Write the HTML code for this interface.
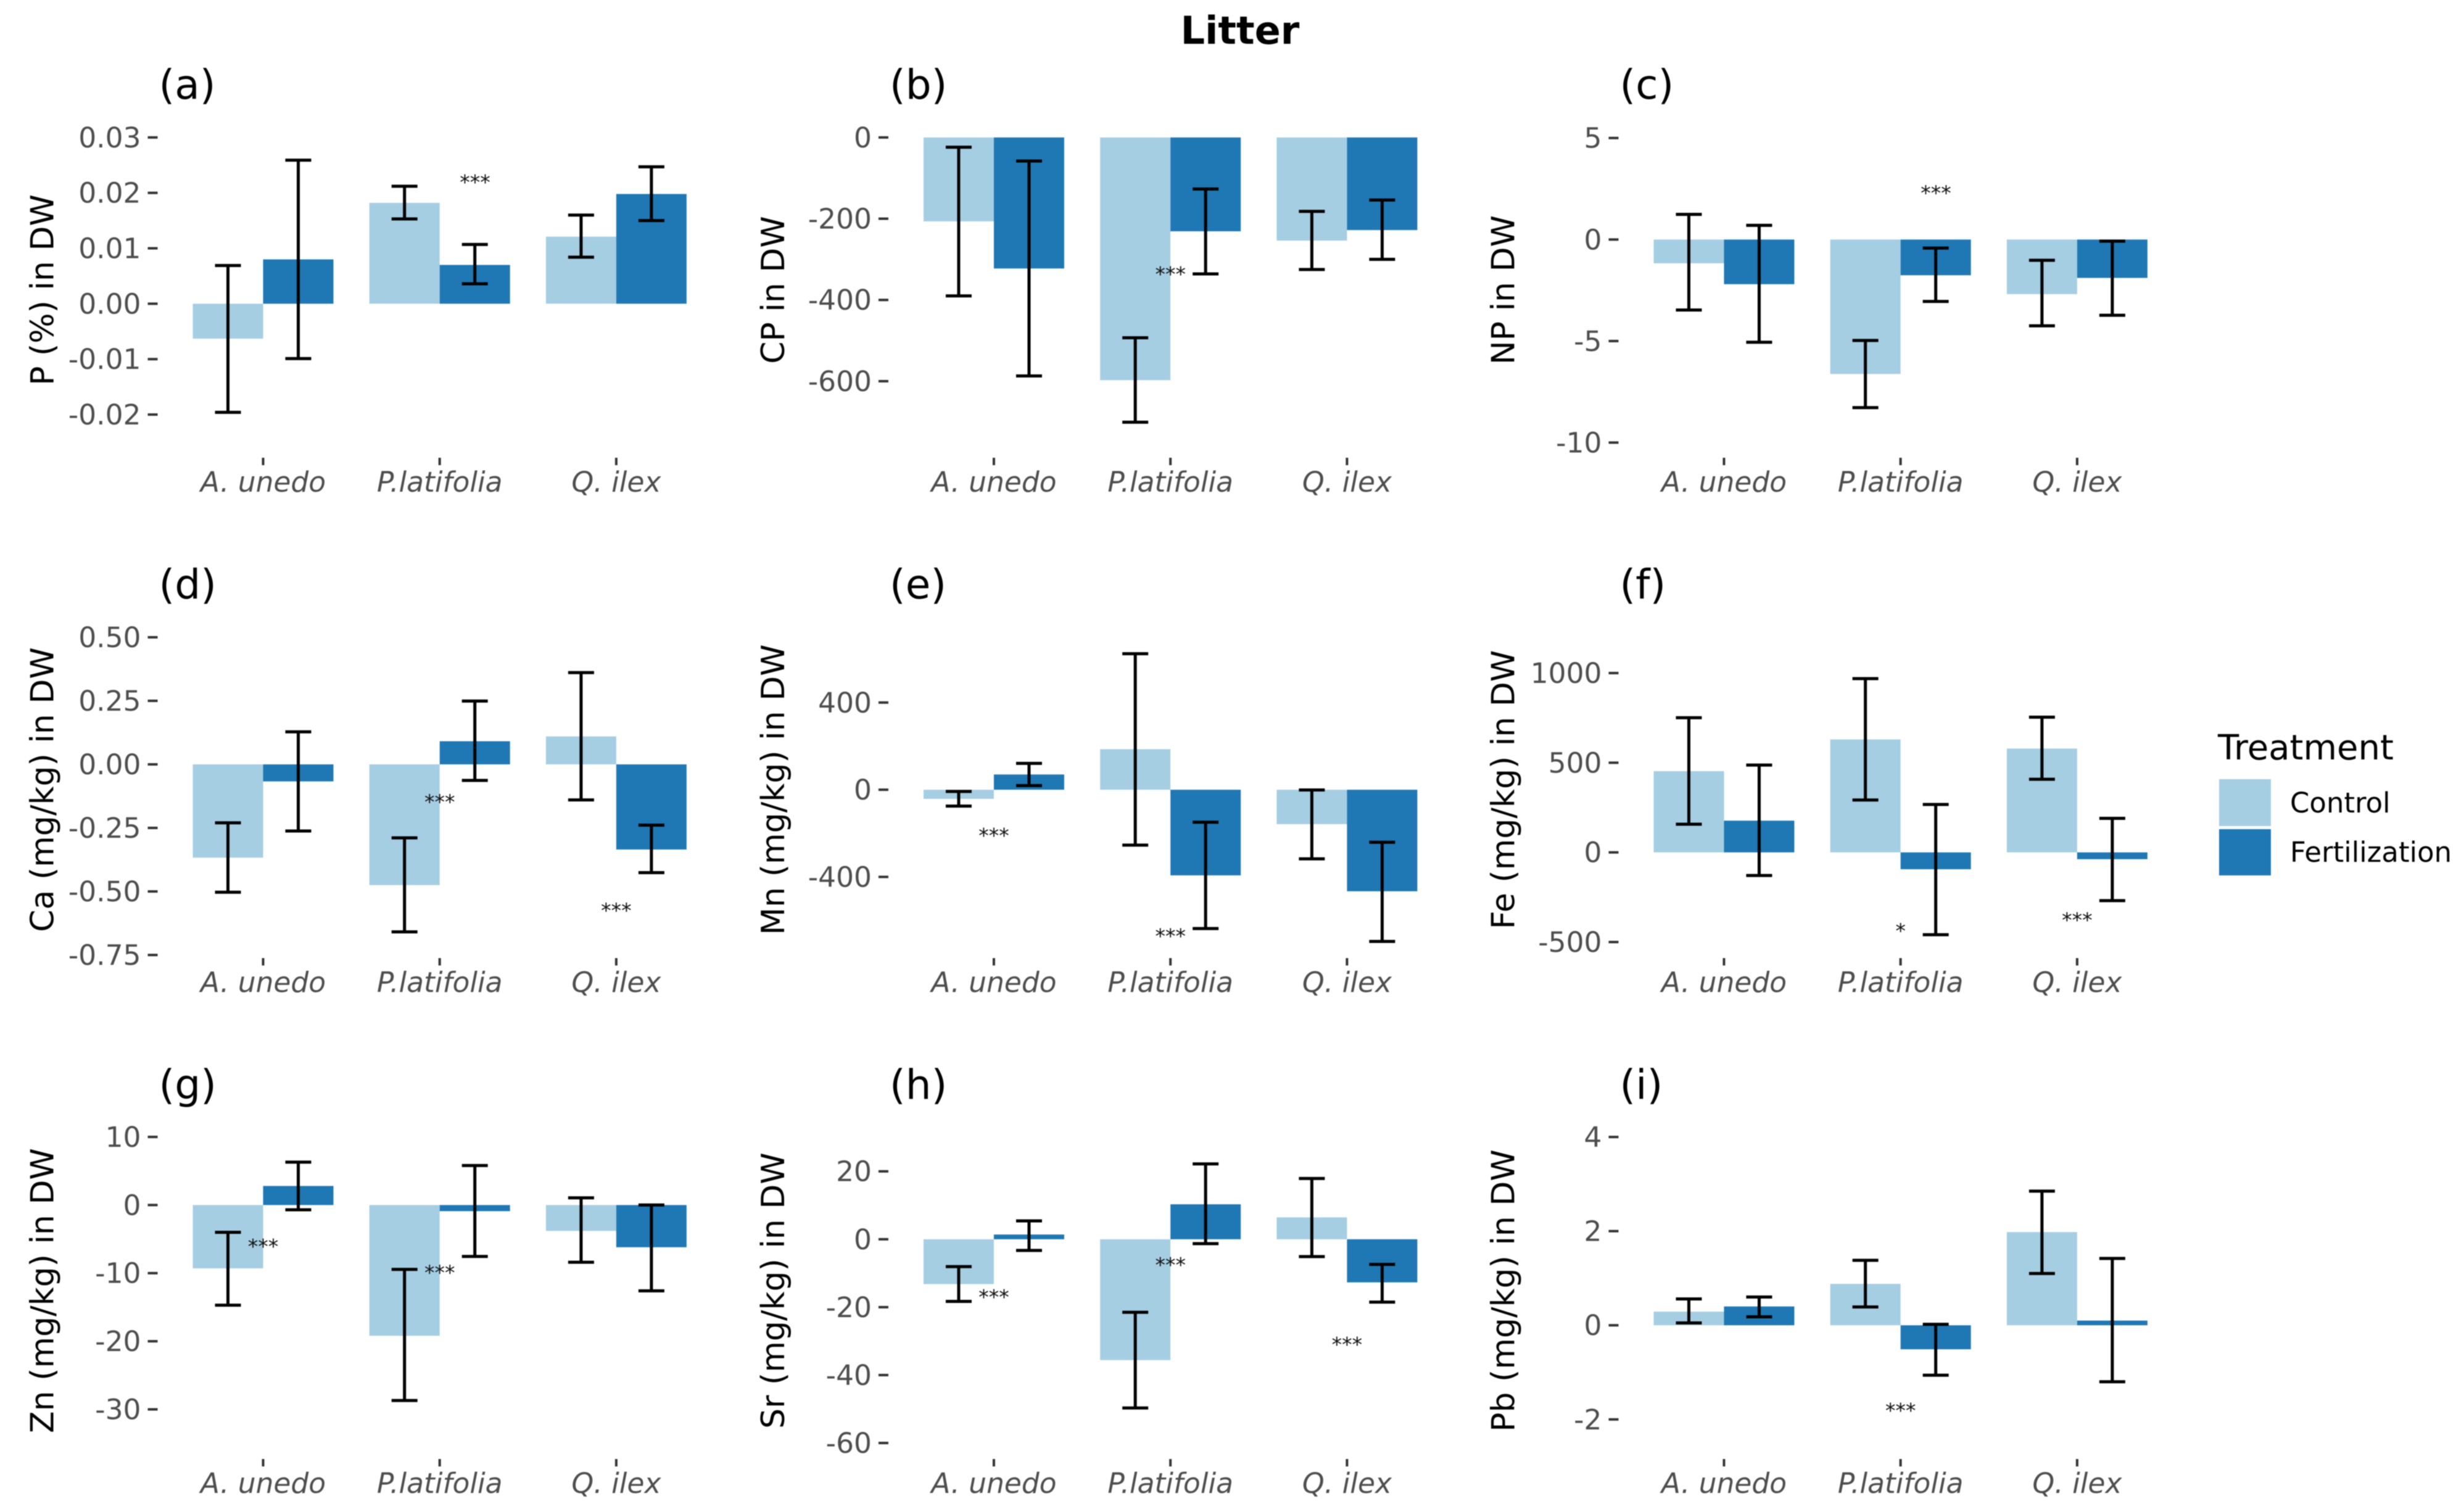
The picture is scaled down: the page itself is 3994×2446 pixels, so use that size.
<!DOCTYPE html>
<html lang="en">
<head>
<meta charset="utf-8">
<title>Litter</title>
<style>
html,body{margin:0;padding:0;background:#fff;}
svg{display:block;filter:blur(0.8px);font-family:"DejaVu Sans","Liberation Sans",sans-serif;}
</style>
</head>
<body>
<svg id="chart" xmlns="http://www.w3.org/2000/svg" width="3994" height="2446" viewBox="0 0 3994 2446">
  <rect x="0" y="0" width="3994" height="2446" fill="#ffffff"/>
  <text x="2010" y="71" font-size="62" font-weight="bold" text-anchor="middle" fill="#000">Litter</text>
  <g>
    <text x="3595" y="1231" font-size="56" fill="#000">Treatment</text>
    <rect x="3597" y="1263" width="84" height="76" fill="#a6cee3"/>
    <text x="3712" y="1317" font-size="45" fill="#000">Control</text>
    <rect x="3597" y="1344" width="84" height="75" fill="#1f78b4"/>
    <text x="3712" y="1397" font-size="45" fill="#000">Fertilization</text>
  </g>
</svg>
<script>
const categories = ['A. unedo', 'P.latifolia', 'Q. ilex'];

const aTicks = [0.03, 0.02, 0.01, 0, -0.01, -0.02];
const aTickLabels = ['0.03', '0.02', '0.01', '0.00', '-0.01', '-0.02'];
const aControl = [-0.0063, 0.0182, 0.0121];
const aFertilization = [0.0080, 0.0070, 0.0198];
const aControlHigh = [0.0069, 0.0212, 0.0160];
const aControlLow = [-0.0196, 0.0153, 0.0084];
const aFertilizationHigh = [0.0259, 0.0107, 0.0247];
const aFertilizationLow = [-0.0099, 0.0036, 0.0150];
const aStarCats = [1.2];
const aStarValues = [0.0225];
const aStarLabels = ['***'];

const bTicks = [0, -200, -400, -600];
const bTickLabels = ['0', '-200', '-400', '-600'];
const bControl = [-206.6, -597.5, -254];
const bFertilization = [-322.6, -231, -228];
const bControlHigh = [-24, -493, -182];
const bControlLow = [-390, -701, -325];
const bFertilizationHigh = [-58, -127, -154];
const bFertilizationLow = [-587, -336, -300];
const bStarCats = [1];
const bStarValues = [-328];
const bStarLabels = ['***'];

const cTicks = [5, 0, -5, -10];
const cTickLabels = ['5', '0', '-5', '-10'];
const cControl = [-1.17, -6.62, -2.69];
const cFertilization = [-2.2, -1.76, -1.89];
const cControlHigh = [1.24, -4.97, -1.02];
const cControlLow = [-3.47, -8.28, -4.25];
const cFertilizationHigh = [0.7, -0.42, -0.08];
const cFertilizationLow = [-5.06, -3.05, -3.73];
const cStarCats = [1.2];
const cStarValues = [2.45];
const cStarLabels = ['***'];

const dTicks = [0.5, 0.25, 0, -0.25, -0.5, -0.75];
const dTickLabels = ['0.50', '0.25', '0.00', '-0.25', '-0.50', '-0.75'];
const dControl = [-0.367, -0.475, 0.11];
const dFertilization = [-0.067, 0.091, -0.335];
const dControlHigh = [-0.23, -0.289, 0.361];
const dControlLow = [-0.503, -0.659, -0.14];
const dFertilizationHigh = [0.128, 0.249, -0.239];
const dFertilizationLow = [-0.262, -0.063, -0.426];
const dStarCats = [1, 2];
const dStarValues = [-0.135, -0.562];
const dStarLabels = ['***', '***'];

const eTicks = [400, 0, -400];
const eTickLabels = ['400', '0', '-400'];
const eControl = [-42, 186, -158];
const eFertilization = [70, -393, -466];
const eControlHigh = [-8, 624, -1];
const eControlLow = [-75, -254, -317];
const eFertilizationHigh = [121, -149, -241];
const eFertilizationLow = [19, -637, -696];
const eStarCats = [0, 1];
const eStarValues = [-195, -656];
const eStarLabels = ['***', '***'];

const fTicks = [1000, 500, 0, -500];
const fTickLabels = ['1000', '500', '0', '-500'];
const fControl = [453, 630, 579];
const fFertilization = [177, -94, -38];
const fControlHigh = [751, 969, 754];
const fControlLow = [157, 292, 408];
const fFertilizationHigh = [487, 267, 190];
const fFertilizationLow = [-129, -459, -269];
const fStarCats = [1, 2];
const fStarValues = [-419, -359];
const fStarLabels = ['*', '***'];

const gTicks = [10, 0, -10, -20, -30];
const gTickLabels = ['10', '0', '-10', '-20', '-30'];
const gControl = [-9.3, -19.2, -3.8];
const gFertilization = [2.8, -0.9, -6.2];
const gControlHigh = [-4, -9.45, 1.06];
const gControlLow = [-14.7, -28.7, -8.4];
const gFertilizationHigh = [6.3, 5.8, 0];
const gFertilizationLow = [-0.7, -7.55, -12.6];
const gStarCats = [0, 1];
const gStarValues = [-5.6, -9.45];
const gStarLabels = ['***', '***'];

const hTicks = [20, 0, -20, -40, -60];
const hTickLabels = ['20', '0', '-20', '-40', '-60'];
const hControl = [-13.2, -35.6, 6.45];
const hFertilization = [1.4, 10.3, -12.7];
const hControlHigh = [-8.06, -21.5, 17.9];
const hControlLow = [-18.3, -49.7, -5.1];
const hFertilizationHigh = [5.4, 22.2, -7.4];
const hFertilizationLow = [-3.3, -1.3, -18.5];
const hStarCats = [0, 1, 2];
const hStarValues = [-16, -6.6, -30];
const hStarLabels = ['***', '***', '***'];

const iTicks = [4, 2, 0, -2];
const iTickLabels = ['4', '2', '0', '-2'];
const iControl = [0.29, 0.88, 1.98];
const iFertilization = [0.4, -0.51, 0.1];
const iControlHigh = [0.56, 1.38, 2.85];
const iControlLow = [0.05, 0.39, 1.1];
const iFertilizationHigh = [0.6, 0.02, 1.42];
const iFertilizationLow = [0.18, -1.06, -1.2];
const iStarCats = [1];
const iStarValues = [-1.74];
const iStarLabels = ['***'];

const NS = 'http://www.w3.org/2000/svg';
const svg = document.getElementById('chart');
const CONTROL_COLOR = '#a6cee3';
const FERT_COLOR = '#1f78b4';
const CAT_STEP = 286.2;
const BAR_W = 114;
const CAP_W = 42;

function mk(tag, attrs, parent) {
  const node = document.createElementNS(NS, tag);
  for (const k in attrs) node.setAttribute(k, attrs[k]);
  parent.appendChild(node);
  return node;
}

function linearAxis(v0, p0, v1, p1) {
  return function (v) { return p0 + (v - v0) * (p1 - p0) / (v1 - v0); };
}

function drawErrorBar(parent, cx, yHigh, yLow, name) {
  const g = mk('g', { stroke: '#000', 'stroke-width': 5, fill: 'none' }, parent);
  
  
  mk('line', { x1: cx, x2: cx, y1: yHigh, y2: yLow }, g);
  mk('line', { x1: cx - CAP_W / 2, x2: cx + CAP_W / 2, y1: yHigh, y2: yHigh }, g);
  mk('line', { x1: cx - CAP_W / 2, x2: cx + CAP_W / 2, y1: yLow, y2: yLow }, g);
}

function drawPanel(p) {
  const g = mk('g', {}, svg);
  
  

  const x = function (c) { return p.x0 + c * CAT_STEP; };
  const y = linearAxis(p.cal[0], p.cal[1], p.cal[2], p.cal[3]);
  const zero = y(0);

  const tagText = mk('text', { x: p.x0 - 169, y: p.tagY, 'font-size': 66, fill: '#000' }, g);
  tagText.textContent = '(' + p.tag + ')';
  
  

  const yTitle = mk('text', {
    transform: 'translate(' + (p.x0 - 340) + ' ' + p.midY + ') rotate(-90)',
    'font-size': 52, 'text-anchor': 'middle', fill: '#000'
  }, g);
  yTitle.textContent = p.title;
  
  

  p.ticks.forEach(function (t, i) {
    const py = y(t);
    const tick = mk('line', { x1: p.x0 - 187, x2: p.x0 - 171, y1: py, y2: py, stroke: '#333', 'stroke-width': 4 }, g);
    
    
    const lab = mk('text', { x: p.x0 - 198, y: py + 16, 'font-size': 45.5, 'text-anchor': 'end', fill: '#4d4d4d' }, g);
    lab.textContent = p.tickLabels[i];
    
    
  });

  categories.forEach(function (cat, i) {
    const cx = x(i);
    const tick = mk('line', { x1: cx, x2: cx, y1: p.xTickY, y2: p.xTickY + 12, stroke: '#333', 'stroke-width': 4 }, g);
    
    
    const lab = mk('text', { x: cx, y: p.xLabelY, 'font-size': 45.5, 'font-style': 'italic', 'text-anchor': 'middle', fill: '#4d4d4d' }, g);
    lab.textContent = cat;
    
    

    const yc = y(p.control[i]);
    const barC = mk('rect', { x: cx - BAR_W, y: Math.min(yc, zero), width: BAR_W, height: Math.abs(yc - zero), fill: CONTROL_COLOR }, g);
    
    

    const yf = y(p.fert[i]);
    const barF = mk('rect', { x: cx, y: Math.min(yf, zero), width: BAR_W, height: Math.abs(yf - zero), fill: FERT_COLOR }, g);
    
    
  });

  categories.forEach(function (cat, i) {
    const cx = x(i);
    drawErrorBar(g, cx - BAR_W / 2, y(p.controlHigh[i]), y(p.controlLow[i]), 'error-bar-control');
    drawErrorBar(g, cx + BAR_W / 2, y(p.fertHigh[i]), y(p.fertLow[i]), 'error-bar-fertilization');
  });

  p.starCats.forEach(function (c, i) {
    const s = mk('text', { x: x(c), y: y(p.starValues[i]) + 17, 'font-size': 33, 'text-anchor': 'middle', fill: '#111' }, g);
    s.textContent = p.starLabels[i];
    
    
  });
}

const X_COLS = [426.5, 1611, 2794.5];
const ROWS = [
  { tagY: 160, midY: 470, xTickY: 742, xLabelY: 797 },
  { tagY: 970, midY: 1280, xTickY: 1553, xLabelY: 1608 },
  { tagY: 1781, midY: 2092, xTickY: 2365, xLabelY: 2420 }
];

function panel(tag, col, row, title, cal, ticks, tickLabels, control, fert, controlHigh, controlLow, fertHigh, fertLow, starCats, starValues, starLabels) {
  drawPanel({
    tag: tag, x0: X_COLS[col], tagY: ROWS[row].tagY, midY: ROWS[row].midY,
    xTickY: ROWS[row].xTickY, xLabelY: ROWS[row].xLabelY, title: title, cal: cal,
    ticks: ticks, tickLabels: tickLabels, control: control, fert: fert,
    controlHigh: controlHigh, controlLow: controlLow, fertHigh: fertHigh, fertLow: fertLow,
    starCats: starCats, starValues: starValues, starLabels: starLabels
  });
}

panel('a', 0, 0, 'P (%) in DW', [0.03, 222.8, -0.02, 672], aTicks, aTickLabels, aControl, aFertilization, aControlHigh, aControlLow, aFertilizationHigh, aFertilizationLow, aStarCats, aStarValues, aStarLabels);
panel('b', 1, 0, 'CP in DW', [0, 222.8, -600, 617.9], bTicks, bTickLabels, bControl, bFertilization, bControlHigh, bControlLow, bFertilizationHigh, bFertilizationLow, bStarCats, bStarValues, bStarLabels);
panel('c', 2, 0, 'NP in DW', [5, 223.7, -10, 717.4], cTicks, cTickLabels, cControl, cFertilization, cControlHigh, cControlLow, cFertilizationHigh, cFertilizationLow, cStarCats, cStarValues, cStarLabels);
panel('d', 0, 1, 'Ca (mg/kg) in DW', [0.5, 1033, -0.75, 1548], dTicks, dTickLabels, dControl, dFertilization, dControlHigh, dControlLow, dFertilizationHigh, dFertilizationLow, dStarCats, dStarValues, dStarLabels);
panel('e', 1, 1, 'Mn (mg/kg) in DW', [400, 1138.8, -400, 1421.4], eTicks, eTickLabels, eControl, eFertilization, eControlHigh, eControlLow, eFertilizationHigh, eFertilizationLow, eStarCats, eStarValues, eStarLabels);
panel('f', 2, 1, 'Fe (mg/kg) in DW', [1000, 1091, -500, 1527], fTicks, fTickLabels, fControl, fFertilization, fControlHigh, fControlLow, fFertilizationHigh, fFertilizationLow, fStarCats, fStarValues, fStarLabels);
panel('g', 0, 2, 'Zn (mg/kg) in DW', [10, 1842.9, -30, 2284.5], gTicks, gTickLabels, gControl, gFertilization, gControlHigh, gControlLow, gFertilizationHigh, gFertilizationLow, gStarCats, gStarValues, gStarLabels);
panel('h', 1, 2, 'Sr (mg/kg) in DW', [20, 1898.7, -60, 2339], hTicks, hTickLabels, hControl, hFertilization, hControlHigh, hControlLow, hFertilizationHigh, hFertilizationLow, hStarCats, hStarValues, hStarLabels);
panel('i', 2, 2, 'Pb (mg/kg) in DW', [4, 1843, -2, 2300.8], iTicks, iTickLabels, iControl, iFertilization, iControlHigh, iControlLow, iFertilizationHigh, iFertilizationLow, iStarCats, iStarValues, iStarLabels);
</script>
</body>
</html>
